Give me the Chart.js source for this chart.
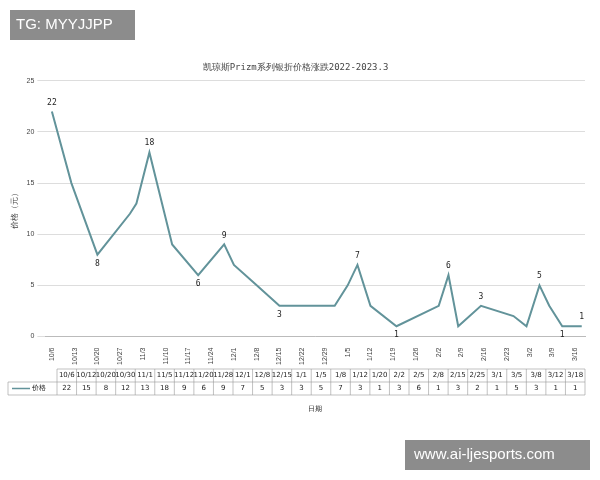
<!DOCTYPE html>
<html><head><meta charset="utf-8">
<script src="https://cdn.jsdelivr.net/npm/chart.js@4/dist/chart.umd.min.js"></script>
<style>body{margin:0;background:#fff}#wrap{width:600px;height:480px;position:relative}</style>
</head><body><div id="wrap"><canvas id="c" width="600" height="480"></canvas></div>
<script>
var dates = ["10/6","10/12","10/20","10/30","11/1","11/5","11/12","11/20","11/28","12/1","12/8","12/15","1/1","1/5","1/8","1/12","1/20","2/2","2/5","2/8","2/15","2/25","3/1","3/5","3/8","3/12","3/18"];
var prices = [22,15,8,12,13,18,9,6,9,7,5,3,3,5,7,3,1,3,6,1,3,2,1,5,3,1,1];
var tickDates = ["10/6","10/13","10/20","10/27","11/3","11/10","11/17","11/24","12/1","12/8","12/15","12/22","12/29","1/5","1/12","1/19","1/26","2/2","2/9","2/16","2/23","3/2","3/9","3/16"];
// labelled points: index -> above(1)/below(-1)
var shownLabels = {0:1,2:-1,5:1,7:-1,8:1,11:-1,14:1,16:-1,18:1,20:1,23:1,25:-1,26:1};

function dayNum(s){
  var p = s.split("/"), m = +p[0], d = +p[1];
  var y = m >= 10 ? 2022 : 2023;
  return Math.round((Date.UTC(y, m-1, d) - Date.UTC(2022, 9, 6)) / 86400000);
}
var tickDays = tickDates.map(dayNum);
var pts = dates.map(function(d, i){ return {x: dayNum(d), y: prices[i]}; });

var line = "#62939a";

var extras = {
  id: "extras",
  afterDatasetsDraw: function(chart){
    var ctx = chart.ctx, meta = chart.getDatasetMeta(0);
    ctx.save();
    ctx.font = "8px 'DejaVu Sans Mono'";
    ctx.fillStyle = "#222"; ctx.textAlign = "center"; ctx.textBaseline = "middle";
    Object.keys(shownLabels).forEach(function(k){
      var p = meta.data[k];
      ctx.fillText(prices[k], p.x, p.y - 9 * shownLabels[k]);
    });
    // data table
    var left = 8, first = 57, right = 585, top = 369, rh = 13;
    var cw = (right - first) / dates.length;
    ctx.strokeStyle = "#999"; ctx.lineWidth = 0.6;
    ctx.beginPath();
    ctx.moveTo(first, top); ctx.lineTo(right, top);
    ctx.moveTo(left, top + rh); ctx.lineTo(right, top + rh);
    ctx.moveTo(left, top + 2*rh); ctx.lineTo(right, top + 2*rh);
    ctx.moveTo(left, top + rh); ctx.lineTo(left, top + 2*rh);
    for (var i = 0; i <= dates.length; i++){
      ctx.moveTo(first + i*cw, top); ctx.lineTo(first + i*cw, top + 2*rh);
    }
    ctx.stroke();
    ctx.font = "7px 'DejaVu Sans'";
    dates.forEach(function(d, i){
      ctx.fillText(d, first + (i+0.5)*cw, top + rh/2);
      ctx.fillText(prices[i], first + (i+0.5)*cw, top + 1.5*rh);
    });
    ctx.strokeStyle = line; ctx.lineWidth = 1.5;
    ctx.beginPath(); ctx.moveTo(12, top + 1.5*rh); ctx.lineTo(30, top + 1.5*rh); ctx.stroke();
    ctx.textAlign = "left";
    ctx.fillText("价格", 32, top + 1.5*rh);
    ctx.textAlign = "center";
    ctx.fillText("日期", 315, 409);
    // watermarks
    ctx.fillStyle = "rgba(120,120,120,0.85)";
    ctx.fillRect(10, 10, 125, 30);
    ctx.fillRect(405, 440, 185, 30);
    ctx.fillStyle = "#fff"; ctx.font = "15px 'Liberation Sans'";
    ctx.textAlign = "left";
    ctx.fillText("TG: MYYJJPP", 16, 25);
    ctx.fillText("www.ai-ljesports.com", 414, 455);
    ctx.restore();
  }
};

new Chart(document.getElementById("c"), {
  type: "line",
  data: { datasets: [{ label: "价格", data: pts, borderColor: line, borderWidth: 2, pointRadius: 0, tension: 0 }] },
  options: {
    responsive: false, animation: false,
    layout: { padding: { left: 6, right: 15, top: 62, bottom: 112 } },
    plugins: {
      legend: { display: false }, tooltip: { enabled: false },
      title: { display: true, text: "凯琼斯Prizm系列银折价格涨跌2022-2023.3", color: "#444",
               font: { size: 9, family: "'DejaVu Sans Mono'", weight: "normal" }, padding: { bottom: 8 } }
    },
    scales: {
      x: { type: "linear", min: -2, max: 164,
           afterBuildTicks: function(ax){ ax.ticks = tickDays.map(function(v){ return {value: v}; }); },
           ticks: { maxRotation: 90, minRotation: 90, autoSkip: false, color: "#444", font: { size: 7 },
                    callback: function(v){ return tickDates[tickDays.indexOf(v)]; } },
           grid: { display: false }, border: { color: "#bbb" } },
      y: { min: 0, max: 25, ticks: { stepSize: 5, color: "#444", font: { size: 7 } },
           grid: { color: "#ddd" }, border: { display: false },
           title: { display: true, text: "价格（元）", color: "#444", font: { size: 8 } } }
    }
  },
  plugins: [extras]
});
</script></body></html>
